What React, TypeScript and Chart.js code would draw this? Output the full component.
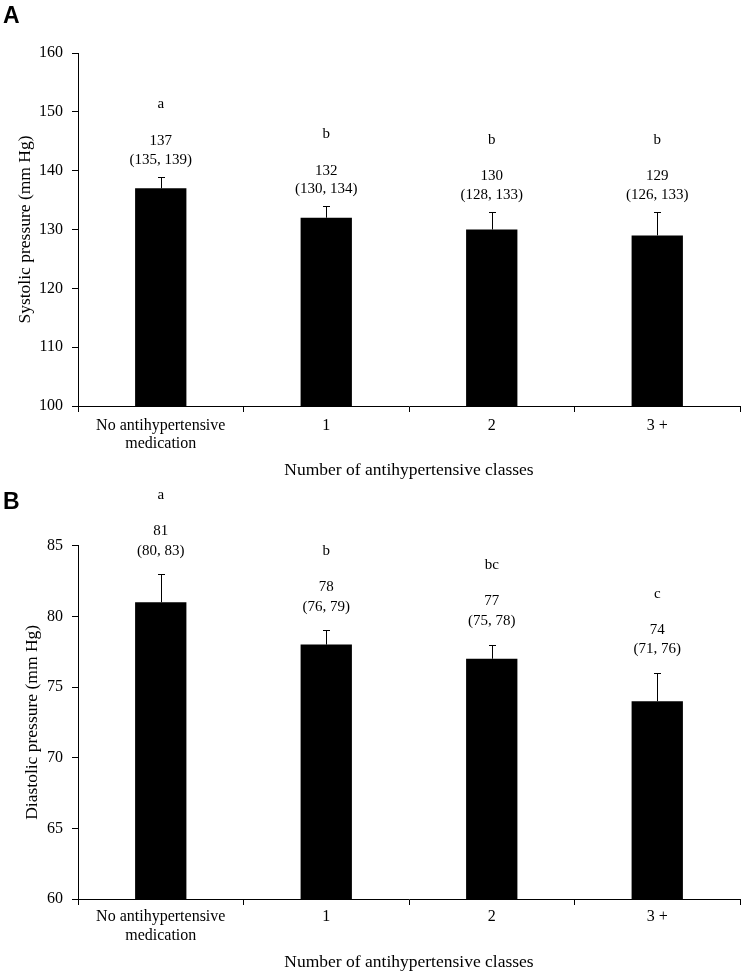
import React, { useEffect, useRef } from "react";
import { Chart, registerables } from "chart.js";

Chart.register(...registerables);

// ---- data ----
const categories: (string | string[])[] = [["No antihypertensive", "medication"], "1", "2", "3 +"];

const systolicMean = [137, 132, 130, 129];
const systolicLower = [135, 130, 128, 126];
const systolicUpper = [139, 134, 133, 133];
const systolicGroups = ["a", "b", "b", "b"];

const diastolicMean = [81, 78, 77, 74];
const diastolicLower = [80, 76, 75, 71];
const diastolicUpper = [83, 79, 78, 76];
const diastolicGroups = ["a", "b", "bc", "c"];

const systolicRange = [100, 160, 10];
const diastolicRange = [60, 85, 5];

const xTitle = "Number of antihypertensive classes";
const systolicTitle = "Systolic pressure (mm Hg)";
const diastolicTitle = "Diastolic pressure (mm Hg)";

const SERIF = '"Liberation Serif", "Times New Roman", serif';

type PanelProps = {
  letter: string;
  letterBaseline: number;
  height: number;
  top: number;
  bottomAxis: number;
  mean: number[];
  lower: number[];
  upper: number[];
  groups: string[];
  range: number[];
  yTitle: string;
  yTitlePad: number;
  xTitlePad: number;
  tickPad: number;
  tickLineHeight: number;
  offParen: number;
  offNum: number;
  offLetter: number;
};

function Panel(p: PanelProps) {
  const ref = useRef<HTMLCanvasElement | null>(null);
  useEffect(() => {
    if (!ref.current) return;
    const overlay = {
      id: "overlay",
      afterDatasetsDraw(chart: any) {
        const ctx = chart.ctx;
        const meta = chart.getDatasetMeta(0);
        const ys = chart.scales.y;
        ctx.save();
        ctx.strokeStyle = "#000";
        ctx.lineWidth = 1;
        ctx.fillStyle = "#000";
        meta.data.forEach((bar: any, i: number) => {
          const x = Math.round(bar.x) + 0.5;
          const yTop = ys.getPixelForValue(p.upper[i]);
          ctx.beginPath();
          ctx.moveTo(x, bar.y);
          ctx.lineTo(x, Math.round(yTop) + 0.5);
          ctx.moveTo(x - 3.5, Math.round(yTop) + 0.5);
          ctx.lineTo(x + 3.5, Math.round(yTop) + 0.5);
          ctx.stroke();
          ctx.textAlign = "center";
          ctx.textBaseline = "middle";
          ctx.font = `15px ${SERIF}`;
          ctx.fillText(`(${p.lower[i]}, ${p.upper[i]})`, bar.x, yTop - p.offParen);
          ctx.fillText(String(p.mean[i]), bar.x, yTop - p.offNum);
          ctx.fillText(p.groups[i], bar.x, yTop - p.offLetter);
        });
        ctx.font = `bold 23px "Liberation Sans", Arial, sans-serif`;
        ctx.textAlign = "left";
        ctx.textBaseline = "alphabetic";
        ctx.fillText(p.letter, 3, p.letterBaseline);
        ctx.restore();
      },
    };
    const chart = new Chart(ref.current, {
      type: "bar",
      data: {
        labels: categories as any,
        datasets: [
          {
            data: p.mean,
            backgroundColor: "#000",
            borderWidth: 0,
            barPercentage: 0.31,
            categoryPercentage: 1,
          },
        ],
      },
      options: {
        responsive: false,
        animation: false,
        devicePixelRatio: 1,
        layout: { padding: { top: p.top, right: 10, left: 0, bottom: 0 } },
        plugins: { legend: { display: false }, tooltip: { enabled: false } },
        scales: {
          x: {
            grid: { display: true, drawOnChartArea: false, drawTicks: true, tickLength: 6, color: "#000", offset: true },
            border: { color: "#000", width: 1 },
            ticks: {
              color: "#000",
              padding: p.tickPad,
              maxRotation: 0,
              autoSkip: false,
              font: { family: SERIF, size: 16, lineHeight: p.tickLineHeight },
            },
            title: {
              display: true,
              text: xTitle,
              color: "#000",
              font: { family: SERIF, size: 17.5, lineHeight: 1.2 },
              padding: { top: 0, bottom: p.xTitlePad },
            },
            afterFit(s: any) {
              s.height = p.height - p.bottomAxis;
            },
          },
          y: {
            min: p.range[0],
            max: p.range[1],
            grid: { display: true, drawOnChartArea: false, drawTicks: true, tickLength: 6, color: "#000" },
            border: { color: "#000", width: 1 },
            ticks: {
              stepSize: p.range[2],
              color: "#000",
              padding: 9,
              font: { family: SERIF, size: 16 },
            },
            title: {
              display: true,
              text: p.yTitle,
              color: "#000",
              font: { family: SERIF, size: 17.5, lineHeight: 1.2 },
              padding: { top: p.yTitlePad, bottom: 0 },
            },
            afterFit(s: any) {
              s.width = 78;
            },
          },
        },
      },
      plugins: [overlay],
    });
    return () => chart.destroy();
  }, []);
  return <canvas ref={ref} width={750} height={p.height} style={{ display: "block", width: 750, height: p.height }} />;
}

export default function App() {
  return (
    <div style={{ position: "absolute", left: 0, top: 0, width: 750, height: 973, background: "#fff" }}>
      <Panel
        letter="A"
        letterBaseline={23}
        height={487}
        top={53}
        bottomAxis={406}
        mean={systolicMean}
        lower={systolicLower}
        upper={systolicUpper}
        groups={systolicGroups}
        range={systolicRange}
        yTitle={systolicTitle}
        yTitlePad={14.5}
        xTitlePad={6.5}
        tickPad={5}
        tickLineHeight={1.12}
        offParen={16.7}
        offNum={35.3}
        offLetter={72}
      />
      <Panel
        letter="B"
        letterBaseline={22}
        height={486}
        top={58.7}
        bottomAxis={412}
        mean={diastolicMean}
        lower={diastolicLower}
        upper={diastolicUpper}
        groups={diastolicGroups}
        range={diastolicRange}
        yTitle={diastolicTitle}
        yTitlePad={21.5}
        xTitlePad={0.5}
        tickPad={2.4}
        tickLineHeight={1.2}
        offParen={23.4}
        offNum={43.2}
        offLetter={79.2}
      />
    </div>
  );
}
